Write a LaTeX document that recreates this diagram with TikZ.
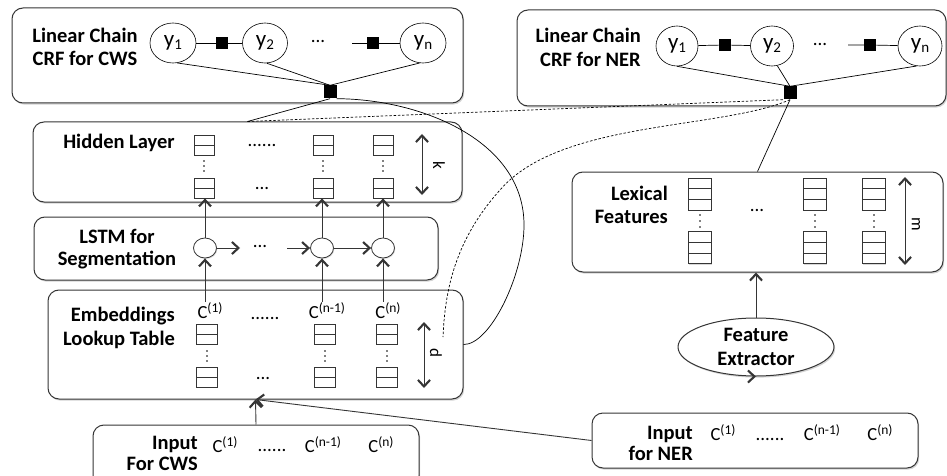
\documentclass[tikz,border=0pt]{standalone}
\usepackage{fontspec}
\setmainfont{Carlito}
\usetikzlibrary{shapes.geometric,arrows.meta,shadows,calc}
\definecolor{edge}{HTML}{353535}
\newcommand\ysb[1]{y\raisebox{-2.5pt}{\fontsize{15}{15}\selectfont #1}}
\newcommand\csp[1]{C\raisebox{6pt}{\fontsize{13.5}{14}\selectfont(#1)}}
\begin{document}
\begin{tikzpicture}[x=1pt,y=-1pt,
  box/.style={draw=edge, line width=1pt, rounded corners=11pt, fill=white, inner sep=0pt,
    drop shadow={shadow xshift=1.2pt, shadow yshift=-1.6pt, opacity=0.35}},
  lbl/.style={font=\fontsize{20.5}{24}\selectfont\bfseries, inner sep=0pt},
  var/.style={ellipse, draw=black, fill=white, line width=0.6pt, minimum height=40pt,
    inner sep=0pt, font=\fontsize{23}{24}\selectfont},
  fac/.style={fill=black, minimum size=12pt, inner sep=0pt},
  ctext/.style={font=\fontsize{18.5}{20}\selectfont, inner sep=0pt, anchor=base},
  dots/.style={font=\fontsize{19}{20}\selectfont, inner sep=0pt},
  cellb/.style={draw=edge, line width=0.8pt, fill=white, minimum width=20pt, minimum height=20pt, inner sep=0pt,
    drop shadow={shadow xshift=0.8pt, shadow yshift=-1pt, opacity=0.3},
    path picture={\draw[edge, line width=0.6pt] (path picture bounding box.west) -- (path picture bounding box.east);}},
  cellc/.style={draw=edge, line width=0.8pt, fill=white, minimum width=23pt, minimum height=32pt, inner sep=0pt,
    drop shadow={shadow xshift=0.8pt, shadow yshift=-1pt, opacity=0.3},
    path picture={
      \draw[edge, line width=0.6pt] ($(path picture bounding box.north west)!0.333!(path picture bounding box.south west)$) -- ($(path picture bounding box.north east)!0.333!(path picture bounding box.south east)$);
      \draw[edge, line width=0.6pt] ($(path picture bounding box.north west)!0.667!(path picture bounding box.south west)$) -- ($(path picture bounding box.north east)!0.667!(path picture bounding box.south east)$);}},
  lcirc/.style={ellipse, draw=edge, line width=0.8pt, fill=white, minimum width=23pt, minimum height=20pt, inner sep=0pt,
    drop shadow={shadow xshift=0.8pt, shadow yshift=-1pt, opacity=0.3}},
  arr/.style={draw=edge, line width=0.9pt, -{Straight Barb[length=6.5pt,width=12pt,line width=2.1pt]}},
  dbl/.style={draw=edge, line width=1pt, {Straight Barb[length=6.5pt,width=12pt,line width=2.1pt]}-{Straight Barb[length=6.5pt,width=12pt,line width=2.1pt]}},
  ln/.style={draw=black, line width=0.7pt},
  dsh/.style={draw=black, line width=0.7pt, dash pattern=on 2.5pt off 1.8pt},
  vdot/.style={fill=black, circle, inner sep=0pt, minimum size=2pt},
  dimlbl/.style={font=\fontsize{17}{18}\selectfont, rotate=-90, inner sep=0pt}
]
\useasboundingbox (0,0) rectangle (947,476);

% ---------- boxes ----------
\node[box, minimum width=451pt, minimum height=95pt] (crfA) at (237.5,55.5) {};
\node[box, minimum width=429pt, minimum height=96pt] (crfB) at (731.5,58) {};
\node[box, minimum width=429pt, minimum height=80pt] (hid) at (247.5,162) {};
\node[box, minimum width=404pt, minimum height=63pt] (lstm) at (236,248.5) {};
\node[box, minimum width=415pt, minimum height=109pt] (emb) at (255.5,344.5) {};
\node[box, minimum width=371pt, minimum height=100pt] (lex) at (757.5,222) {};
\node[box, minimum width=326pt, minimum height=62pt] (incws) at (256,456) {};
\node[box, minimum width=326pt, minimum height=55pt] (inner) at (755,440.5) {};
\node[ellipse, draw=edge, line width=1pt, fill=white, minimum width=156pt, minimum height=58pt, inner sep=0pt,
  drop shadow={shadow xshift=1.2pt, shadow yshift=-1.6pt, opacity=0.35}] (fe) at (756,347) {};
\node[lbl, align=center] (tF) at (756,347) {Feature\\Extractor};

% ---------- labels ----------
\node[lbl, align=center, font=\fontsize{20.5}{23}\selectfont\bfseries] (tA) at (85,47) {Linear Chain\\CRF for CWS};
\node[lbl, align=right, anchor=east, font=\fontsize{20.5}{24}\selectfont\bfseries] (tB) at (641,47.5) {Linear Chain\\CRF for NER};
\node[lbl, anchor=base] (tH) at (119,148) {Hidden Layer};
\node[lbl, align=center, font=\fontsize{20.5}{22}\selectfont\bfseries] (tL) at (117,249) {LSTM for\\Segmentation};
\node[lbl, align=right, anchor=east] (tE) at (175,328) {Embeddings\\Lookup Table};
\node[lbl, align=right, anchor=east, font=\fontsize{20.5}{23}\selectfont\bfseries] (tX) at (668,204.5) {Lexical\\Features};
\node[lbl, align=right, anchor=east, font=\fontsize{20.5}{21}\selectfont\bfseries] (tI) at (198,453.5) {Input\\For CWS};
\node[lbl, align=right, anchor=east, font=\fontsize{20.5}{21}\selectfont\bfseries] (tN) at (693,443.5) {Input\\for NER};

% ---------- CRF for CWS ----------
\node[var, minimum width=46pt] (y1A) at (173,43) {\ysb{1}};
\node[var, minimum width=45pt] (y2A) at (265,43) {\ysb{2}};
\node[var, minimum width=46pt] (ynA) at (423,43) {\ysb{n}};
\node[fac] (fA1) at (222,43) {};
\node[fac] (fA2) at (373,43) {};
\node[dots] (dA) at (318,41) {...};
\coordinate (lA) at (352,43);
\node[fac, minimum size=13pt] (sqA) at (330,92) {};
\draw[ln] (y1A) -- (fA1) -- (y2A);
\draw[ln] (lA) -- (fA2) -- (ynA);
\draw[ln] (y1A.-78) -- (sqA.north);
\draw[ln] (y2A.-85) -- (sqA.north);
\draw[ln] (ynA.-100) -- (sqA.north);

% ---------- CRF for NER ----------
\node[var, minimum width=42pt] (y1B) at (677,46) {\ysb{1}};
\node[var, minimum width=43pt] (y2B) at (772,46) {\ysb{2}};
\node[var, minimum width=44pt] (ynB) at (920,46) {\ysb{n}};
\node[fac] (fB1) at (725,45) {};
\node[fac] (fB2) at (870,45) {};
\node[dots] (dB) at (820,44) {...};
\coordinate (lB) at (848,45);
\node[fac, minimum size=13pt] (sqB) at (790,93) {};
\draw[ln] (y1B) -- (fB1) -- (y2B);
\draw[ln] (lB) -- (fB2) -- (ynB);
\draw[ln] (y1B.-90) -- (sqB.north);
\draw[ln] (y2B.-75) -- (sqB.north);
\draw[ln] (ynB.-100) -- (sqB.north);

% ---------- Hidden layer ----------
\node[cellb] (h1t) at (204,145) {};
\node[cellb] (h2t) at (323,145) {};
\node[cellb] (h3t) at (383,145) {};
\node[cellb] (h1b) at (204,188) {};
\node[cellb] (h2b) at (323,188) {};
\node[cellb] (h3b) at (383,188) {};
\foreach \x in {204,323,383}{\foreach \y in {161,166,171}{\node[vdot, minimum size=1.8pt] at (\x,\y) {};}}
\node[dots] (hd1) at (262,145) {......};
\node[dots] (hd2) at (262,188) {...};
\coordinate (kt) at (422,134);
\coordinate (kb) at (422,195);
\draw[dbl] (kt) -- (kb);
\node[dimlbl] (kl) at (439,165) {k};

% ---------- LSTM ----------
\node[lcirc] (l1) at (205,248) {};
\node[lcirc] (l2) at (322,248) {};
\node[lcirc] (l3) at (383,248) {};
\node[dots] (ld) at (260,246) {...};
\coordinate (la) at (240,248);
\coordinate (lb) at (287,248);
\draw[arr] (l1) -- (la);
\draw[arr] (lb) -- (l2);
\draw[arr] (l2) -- (l3);
\draw[arr] (l1) -- (l1 |- h1b.south);
\draw[arr] (l2) -- (l2 |- h2b.south);
\draw[arr] (l3) -- (l3 |- h3b.south);

% ---------- Embeddings ----------
\node[ctext] (c1) at (210,318) {\csp{1}};
\node[ctext] (c2) at (327,318) {\csp{n-1}};
\node[ctext] (c3) at (388,318) {\csp{n}};
\node[dots] (ed1) at (265,318) {......};
\node[cellb, minimum width=21pt] (e1t) at (207,334) {};
\node[cellb, minimum width=21pt] (e2t) at (325,334) {};
\node[cellb, minimum width=21pt] (e3t) at (387,334) {};
\node[cellb, minimum width=21pt] (e1b) at (207,377) {};
\node[cellb, minimum width=21pt] (e2b) at (325,377) {};
\node[cellb, minimum width=21pt] (e3b) at (387,377) {};
\foreach \x in {207,325,387}{\foreach \y in {351,356,361}{\node[vdot, minimum size=1.8pt] at (\x,\y) {};}}
\node[dots] (ed2) at (263,378) {...};
\coordinate (dt) at (424,322);
\coordinate (db) at (424,388);
\draw[dbl] (dt) -- (db);
\node[dimlbl] (dl) at (436,353) {d};
\draw[arr] (l1 |- c1.north) -- (l1);
\draw[arr] (l2 |- c2.north) -- (l2);
\draw[arr] (l3 |- c3.north) -- (l3);

% ---------- Lexical features ----------
\node[cellc] (x1t) at (700,194) {};
\node[cellc] (x2t) at (815,194) {};
\node[cellc] (x3t) at (874,194) {};
\node[cellc] (x1b) at (700,247.5) {};
\node[cellc] (x2b) at (815,247.5) {};
\node[cellc] (x3b) at (874,247.5) {};
\foreach \x in {700,815,874}{\foreach \y in {215,221,227}{\node[vdot, minimum size=1.8pt] at (\x,\y) {};}}
\node[dots] (xd) at (757,210) {...};
\coordinate (mt) at (905,177);
\coordinate (mb) at (905,265);
\draw[dbl] (mt) -- (mb);
\node[dimlbl] (ml) at (916,224) {m};

% ---------- Inputs ----------
\node[ctext] (ic1) at (225,452) {\csp{1}};
\node[dots] (icd) at (272,450) {......};
\node[ctext] (ic2) at (323,452) {\csp{n-1}};
\node[ctext] (ic3) at (381,452) {\csp{n}};
\node[ctext] (in1) at (723,440) {\csp{1}};
\node[dots] (ind) at (770,439) {......};
\node[ctext] (in2) at (822,440) {\csp{n-1}};
\node[ctext] (in3) at (880,440) {\csp{n}};

% ---------- connectors ----------
\draw[arr] (incws.north) -- (emb.south);
\draw[arr] (inner.west) -- (emb.south);
\draw[arr] (fe.south -| inner.north) -- (fe.south);
\draw[arr] (fe.north) -- (fe.north |- lex.south);
\draw[ln] (sqA.south) -- (hid.north);
\draw[ln] (sqB.south) -- (lex.north);
\draw[dsh] (hid.north) -- (sqB.south west);
\draw[ln] (sqA.south east) .. controls (420,99) and (524,140) .. (524,225)
  .. controls (524,275) and (490,345) .. (emb.east);
\coordinate (dend) at (443,337);
\draw[dsh] (sqB.south) .. controls (720,130) and (560,120) .. (500,190)
  .. controls (455,240) and (445,290) .. (dend);
\end{tikzpicture}
\end{document}
